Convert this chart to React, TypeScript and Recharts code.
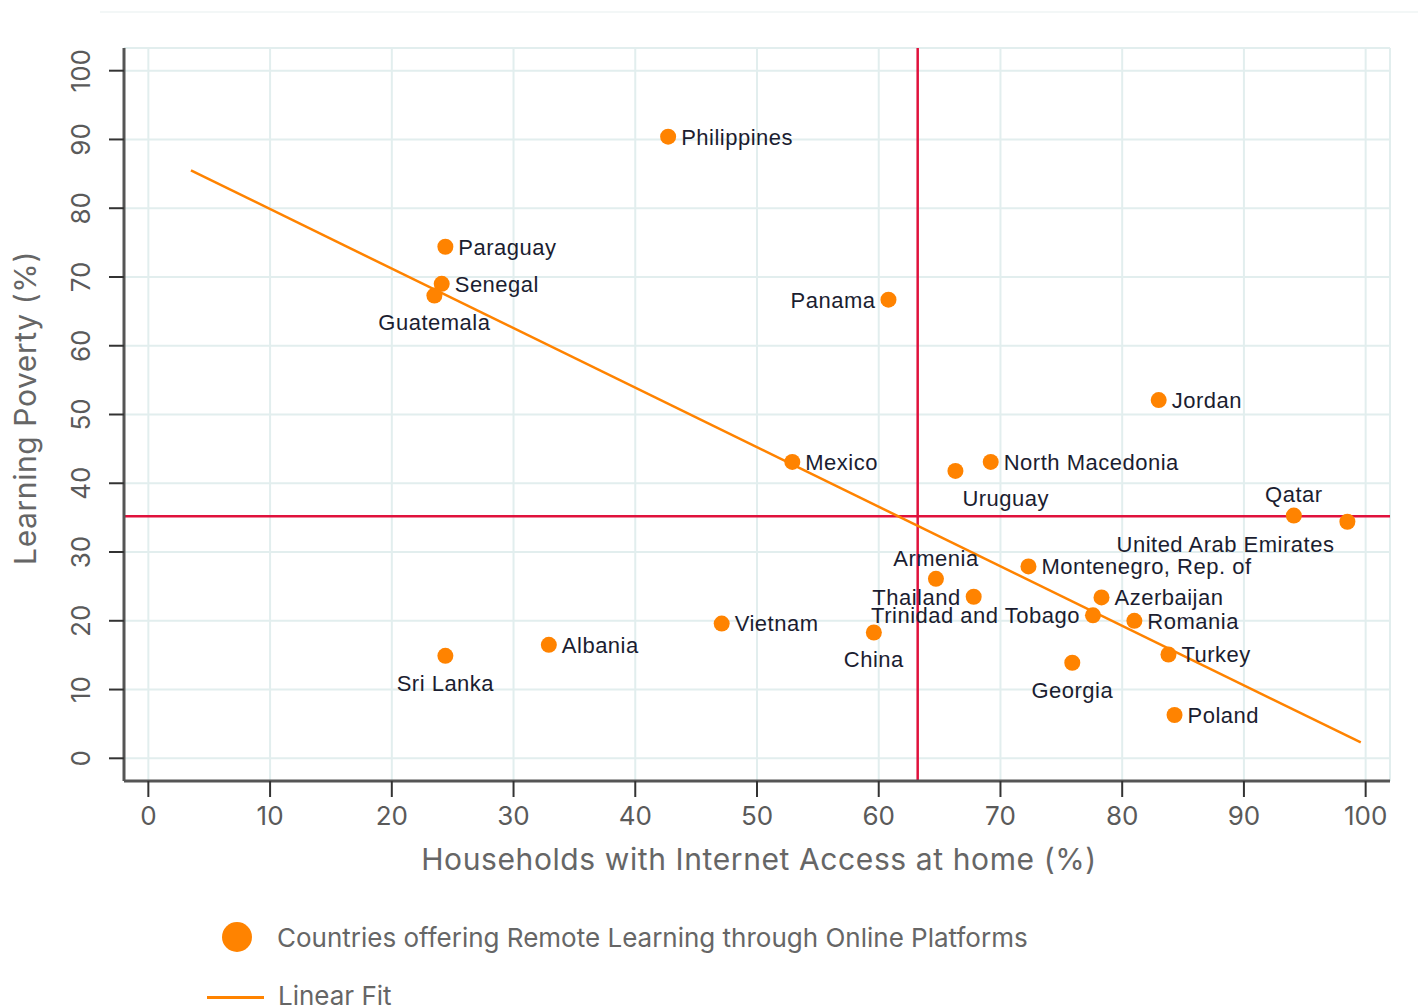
import {
  ScatterChart,
  Scatter,
  XAxis,
  YAxis,
  CartesianGrid,
  ReferenceLine,
} from 'recharts';

const countries = [
  'Philippines', 'Paraguay', 'Senegal', 'Guatemala', 'Panama', 'Jordan',
  'Mexico', 'Uruguay', 'North Macedonia', 'Qatar', 'United Arab Emirates',
  'Armenia', 'Montenegro, Rep. of', 'Thailand', 'Azerbaijan',
  'Trinidad and Tobago', 'Romania', 'Vietnam', 'China', 'Albania',
  'Sri Lanka', 'Turkey', 'Georgia', 'Poland',
];
const internetAccess = [
  42.7, 24.4, 24.1, 23.5, 60.8, 83.0, 52.9, 66.3, 69.2, 94.1, 98.5, 64.7,
  72.3, 67.8, 78.3, 77.6, 81.0, 47.1, 59.6, 32.9, 24.4, 83.8, 75.9, 84.3,
];
const learningPoverty = [
  90.4, 74.4, 69.0, 67.3, 66.7, 52.1, 43.1, 41.8, 43.1, 35.3, 34.4, 26.1,
  27.9, 23.5, 23.4, 20.8, 20.0, 19.6, 18.3, 16.5, 14.9, 15.1, 13.9, 6.3,
];
// where each country name sits relative to its dot
const labelSide: Record<string, string> = {
  Guatemala: 'below', 'Sri Lanka': 'below', China: 'below', Georgia: 'below',
  Uruguay: 'belowRight', 'United Arab Emirates': 'belowLeft',
  Qatar: 'above', Armenia: 'above',
  Panama: 'left', Thailand: 'left', 'Trinidad and Tobago': 'left',
};
const fitX = [3.5, 99.6];
const fitY = [85.5, 2.3];
const xTicks = [0, 10, 20, 30, 40, 50, 60, 70, 80, 90, 100];
const yTicks = [0, 10, 20, 30, 40, 50, 60, 70, 80, 90, 100];
const meanAccess = 63.2;
const meanPoverty = 35.2;

const points = countries.map((name, i) => ({
  name,
  x: internetAccess[i],
  y: learningPoverty[i],
}));
const fitLine = fitX.map((x, i) => ({ x, y: fitY[i] }));

const ORANGE = '#ff8300';
const LABEL_FONT = '"Liberation Sans", Arial, sans-serif';
const UI_FONT = 'Inter, "Noto Sans", sans-serif';

function CountryDot(props: any) {
  const { cx, cy, payload } = props;
  const side = labelSide[payload.name] || 'right';
  let tx = cx + 13;
  let ty = cy;
  let anchor: 'start' | 'middle' | 'end' = 'start';
  if (side === 'below') { tx = cx; ty = cy + 27; anchor = 'middle'; }
  if (side === 'belowRight') { tx = cx + 7; ty = cy + 27; }
  if (side === 'belowLeft') { tx = cx - 13; ty = cy + 22; anchor = 'end'; }
  if (side === 'above') { tx = cx; ty = cy - 21; anchor = 'middle'; }
  if (side === 'left') { tx = cx - 13; anchor = 'end'; }
  return (
    <g>
      <circle cx={cx} cy={cy} r={8} fill={ORANGE} />
      <text
        x={tx}
        y={ty}
        dy="0.36em"
        textAnchor={anchor}
        fontFamily={LABEL_FONT}
        fontSize={22}
        letterSpacing={0.5}
        fill="#1b1d30"
      >
        {payload.name}
      </text>
    </g>
  );
}

function YTick(props: any) {
  const { x, y, payload } = props;
  return (
    <text
      x={x}
      y={y}
      transform={`rotate(-90 ${x} ${y})`}
      textAnchor="middle"
      fontFamily={UI_FONT}
      fontSize={26}
      fill="#5a5a5a"
    >
      {payload.value}
    </text>
  );
}

const titleStyle = {
  position: 'absolute' as const,
  whiteSpace: 'nowrap' as const,
  fontFamily: UI_FONT,
  fontSize: 30,
  letterSpacing: 0.6,
  color: '#666',
};
const legendStyle = {
  position: 'absolute' as const,
  whiteSpace: 'nowrap' as const,
  fontFamily: UI_FONT,
  fontSize: 26,
  color: '#666',
  transform: 'translateY(-50%)',
};

export default function App() {
  return (
    <div style={{ position: 'absolute', left: 0, top: 0, width: 1418, height: 1006, background: '#fff', overflow: 'hidden' }}>
      <div style={{ position: 'absolute', left: 100, top: 11, width: 1318, height: 2, background: '#f3f7f7' }} />
      <ScatterChart
        width={1418}
        height={1006}
        margin={{ top: 48, right: 28, left: 64, bottom: 165 }}
      >
        <CartesianGrid stroke="#e2eeee" strokeWidth={2} />
        <XAxis
          type="number"
          dataKey="x"
          domain={[-2, 102]}
          ticks={xTicks}
          height={60}
          tickSize={16}
          tickMargin={10}
          axisLine={{ stroke: '#555', strokeWidth: 3 }}
          tickLine={{ stroke: '#333', strokeWidth: 2 }}
          tick={{ fontFamily: UI_FONT, fontSize: 26, fill: '#5a5a5a' }}
          allowDataOverflow
        />
        <YAxis
          type="number"
          dataKey="y"
          domain={[-3.3, 103.3]}
          ticks={yTicks}
          width={60}
          tickSize={15}
          tickMargin={19}
          axisLine={{ stroke: '#555', strokeWidth: 3 }}
          tickLine={{ stroke: '#333', strokeWidth: 2 }}
          tick={<YTick />}
          allowDataOverflow
        />
        <ReferenceLine x={meanAccess} stroke="#e0113c" strokeWidth={2.5} />
        <ReferenceLine y={meanPoverty} stroke="#e0113c" strokeWidth={2.5} />
        <Scatter
          data={fitLine}
          line={{ stroke: ORANGE, strokeWidth: 2.5 }}
          shape={() => <g />}
          isAnimationActive={false}
        />
        <Scatter data={points} shape={<CountryDot />} isAnimationActive={false} />
      </ScatterChart>
      <div style={{ ...titleStyle, left: 25, top: 408, transform: 'translate(-50%, -50%) rotate(-90deg)' }}>
        Learning Poverty (%)
      </div>
      <div style={{ ...titleStyle, left: 759, top: 859, transform: 'translate(-50%, -50%)' }}>
        Households with Internet Access at home (%)
      </div>
      <div style={{ position: 'absolute', left: 222, top: 922, width: 30, height: 30, borderRadius: '50%', background: ORANGE }} />
      <div style={{ ...legendStyle, left: 277, top: 937 }}>
        Countries offering Remote Learning through Online Platforms
      </div>
      <div style={{ position: 'absolute', left: 207, top: 996, width: 57, height: 3, background: ORANGE }} />
      <div style={{ ...legendStyle, left: 278, top: 995 }}>
        Linear Fit
      </div>
    </div>
  );
}
